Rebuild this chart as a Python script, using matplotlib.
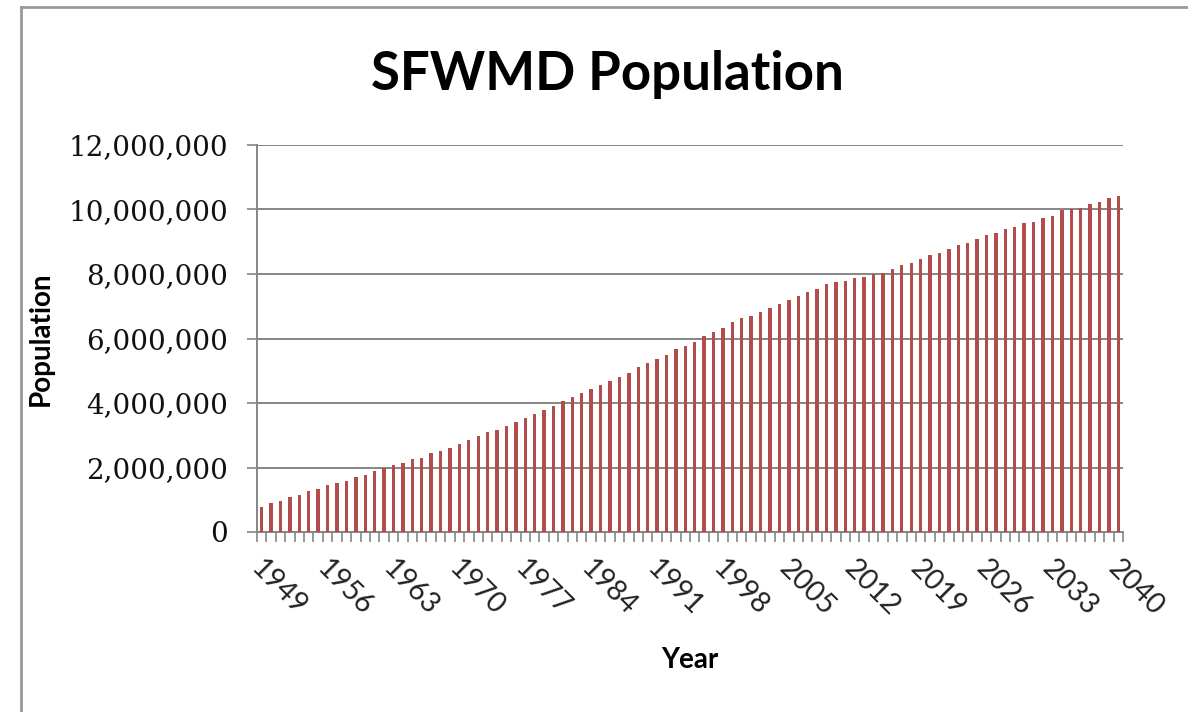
import matplotlib
matplotlib.use("Agg")
import matplotlib.pyplot as plt
import matplotlib.lines as mlines
from matplotlib.transforms import ScaledTranslation
from matplotlib.ticker import FuncFormatter
import numpy as np

years = list(range(1949, 2041))
population_millions = [
    0.78, 0.91, 0.97, 1.09, 1.16, 1.28, 1.34, 1.47, 1.52, 1.58,
    1.71, 1.76, 1.89, 1.97, 2.07, 2.13, 2.25, 2.30, 2.44, 2.50,
    2.61, 2.74, 2.85, 2.98, 3.10, 3.16, 3.29, 3.41, 3.53, 3.65,
    3.77, 3.90, 4.07, 4.20, 4.32, 4.44, 4.57, 4.69, 4.82, 4.93,
    5.12, 5.23, 5.36, 5.48, 5.67, 5.78, 5.90, 6.08, 6.21, 6.34,
    6.52, 6.64, 6.70, 6.82, 6.95, 7.07, 7.19, 7.32, 7.43, 7.55,
    7.68, 7.74, 7.78, 7.87, 7.92, 8.00, 8.02, 8.17, 8.29, 8.35,
    8.48, 8.59, 8.66, 8.78, 8.90, 8.96, 9.09, 9.20, 9.26, 9.39,
    9.45, 9.57, 9.62, 9.75, 9.81, 9.98, 10.00, 10.05, 10.18, 10.24,
    10.36, 10.43,
]
population = [v * 1_000_000 for v in population_millions]
y_ticks = [0, 2_000_000, 4_000_000, 6_000_000, 8_000_000, 10_000_000, 12_000_000]
label_step = 7

title = "SFWMD Population"
x_label = "Year"
y_label = "Population"

fig = plt.figure(figsize=(11.88, 7.12), dpi=100)
fig.patch.set_facecolor("white")

ax = fig.add_axes([257 / 1188, (712 - 532) / 712, (1123 - 257) / 1188, (532 - 145) / 712])
x = np.arange(len(years))
ax.bar(x, population, width=0.36, color="#B24D4A", zorder=3)

ax.set_xlim(-0.5, len(years) - 0.5)
ax.set_ylim(0, 12_000_000)

gray = "#868686"
ax.set_yticks(y_ticks)
ax.yaxis.set_major_formatter(FuncFormatter(lambda v, p: f"{int(v):,}"))
ax.yaxis.grid(True, color=gray, linewidth=1.4, zorder=1)
ax.set_axisbelow(True)

# major ticks at category boundaries (no labels), labels at centers
ax.set_xticks(np.arange(-0.5, len(years) + 0.5, 1.0))
ax.set_xticklabels([])
centers = x[::label_step]
ax.set_xticks(centers, minor=True)
ax.set_xticklabels([str(years[i]) for i in centers], minor=True)
ax.tick_params(axis="x", which="major", direction="out", length=7, width=1.2, color=gray)
ax.tick_params(axis="x", which="minor", length=0, pad=23, labelsize=20.5)
for lab in ax.get_xticklabels(minor=True):
    lab.set_rotation(-45)
    lab.set_rotation_mode("anchor")
    lab.set_ha("left")
    lab.set_va("center")
    lab.set_fontfamily("Lato")
    lab.set_color("#222222")
    lab.set_transform(lab.get_transform() + ScaledTranslation(-6 / 100, 0, fig.dpi_scale_trans))

ax.tick_params(axis="y", direction="out", length=7, width=1.2, color=gray, pad=14, labelsize=20)
for lab in ax.get_yticklabels():
    lab.set_fontfamily("DejaVu Serif")
    lab.set_color("#111111")

for s in ["top", "right"]:
    ax.spines[s].set_visible(False)
for s in ["left", "bottom"]:
    ax.spines[s].set_color(gray)
    ax.spines[s].set_linewidth(1.4)

ax.set_ylabel(y_label, fontfamily="Lato", fontweight="bold", fontsize=20)
ax.yaxis.set_label_coords((41 - 257) / 866, 0.5)
ax.set_xlabel(x_label, fontfamily="Lato", fontweight="bold", fontsize=20)
ax.xaxis.set_label_coords(0.5, (532 - 660) / 387)
ax.xaxis.label.set_va("center")
ax.yaxis.label.set_va("center")

fig.text(607 / 1188, (712 - 90) / 712, title, ha="center", va="baseline",
         fontfamily="Lato", fontweight="bold", fontsize=38)

# chart-area border (top and left visible)
fig.add_artist(mlines.Line2D([21 / 1188, 1.0], [1 - 7 / 712, 1 - 7 / 712],
                             transform=fig.transFigure, color="#999999", linewidth=2))
fig.add_artist(mlines.Line2D([21 / 1188, 21 / 1188], [0.0, 1 - 7 / 712],
                             transform=fig.transFigure, color="#999999", linewidth=2))

fig.savefig("out.png", dpi=100, facecolor="white")
